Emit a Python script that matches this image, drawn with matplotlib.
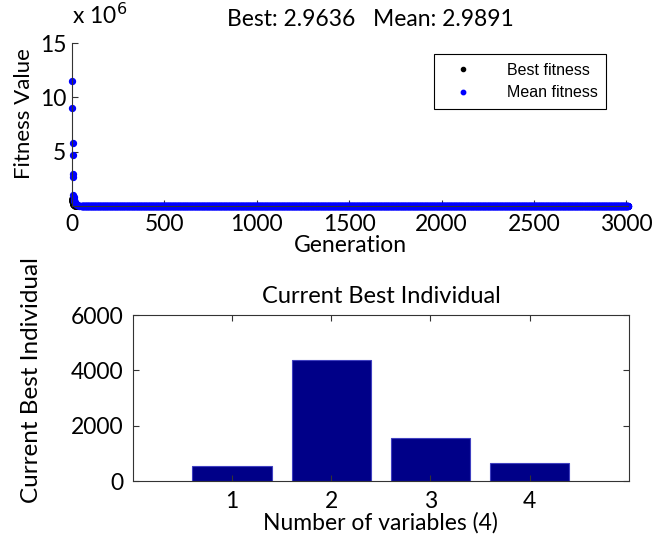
import numpy as np
import matplotlib
matplotlib.use('Agg')
import matplotlib.pyplot as plt

# top panel: fitness per generation (values in units of 1e6)
early_gen = [1, 2, 3, 4, 5, 6, 7, 8, 10, 12, 15, 20, 25, 30, 40, 50]
early_mean = [11.5, 9.0, 5.8, 4.7, 2.9, 2.7, 1.0, 0.8, 0.6, 0.5, 0.35, 0.2, 0.12, 0.06, 0.02, 0.0]
early_best = [0.6, 0.45, 0.35, 0.3, 0.25, 0.2, 0.15, 0.12, 0.08, 0.05, 0.03, 0.01, 0.0, 0.0, 0.0, 0.0]
last_gen = 3010
best_final = 2.9636
mean_final = 2.9891

# bottom panel: current best individual
var_idx = [1, 2, 3, 4]
best_individual = [530, 4380, 1555, 640]

# tail of the run sits flat at the final values
tail_gen = np.arange(early_gen[-1] + 1, last_gen + 1)
gens = np.concatenate([early_gen, tail_gen])
mean_vals = np.concatenate([early_mean, np.repeat(mean_final / 1e6, len(tail_gen))])
best_vals = np.concatenate([early_best, np.repeat(best_final / 1e6, len(tail_gen))])

plt.rcParams['font.family'] = ['Lato', 'DejaVu Sans']
fig = plt.figure(figsize=(6.62, 5.36), dpi=100)

# --- top panel
ax1 = fig.add_axes([0.1088, 0.6157, 0.840, 0.304])
ax1.plot(gens, best_vals, '.', color='black', ms=8, label='Best fitness', clip_on=False)
ax1.plot(gens, mean_vals, '.', color='blue', ms=8.5, label='Mean fitness', clip_on=False)
ax1.set_xlim(0, last_gen)
ax1.set_ylim(0, 15)
ax1.set_yticks([5, 10, 15])
ax1.set_xticks([0, 500, 1000, 1500, 2000, 2500, 3000])
ax1.spines['top'].set_visible(False)
ax1.spines['right'].set_visible(False)
for s in ['left', 'bottom']:
    ax1.spines[s].set_color('#333333')
    ax1.spines[s].set_linewidth(0.8)
ax1.tick_params(direction='in', length=4, labelsize=16.5, pad=6, color='#333333')
ax1.tick_params(axis='y', pad=4)
ax1.set_xlabel('Generation', fontsize=16.5, labelpad=0)
ax1.set_ylabel('Fitness Value', fontsize=16)
ax1.yaxis.set_label_coords(-0.068, 0.57)
ax1.set_title('Best: 2.9636   Mean: 2.9891', fontsize=16.5, x=0.536, pad=12)
ax1.text(0.0, 1.09, r'x 10$^6$', transform=ax1.transAxes, fontsize=16.5, ha='left', va='bottom')
leg = ax1.legend(loc='upper right', bbox_to_anchor=(0.975, 0.98),
                 prop={'family': 'Liberation Sans', 'size': 11.5},
                 fancybox=False, framealpha=1, edgecolor='black', markerscale=0.75,
                 handletextpad=1.4, borderpad=0.55, labelspacing=0.45, handlelength=2.6)
leg.get_frame().set_linewidth(0.8)

# --- bottom panel
ax2 = fig.add_axes([0.2009, 0.1026, 0.749, 0.3097])
ax2.bar(var_idx, best_individual, width=0.8, color='#000088', edgecolor='#4040c0', linewidth=0.8)
ax2.set_xlim(0, 5)
ax2.set_ylim(0, 6000)
ax2.set_xticks(var_idx)
ax2.set_yticks([0, 2000, 4000, 6000])
for s in ax2.spines.values():
    s.set_color('#333333')
    s.set_linewidth(0.8)
ax2.tick_params(direction='in', length=4, labelsize=16.5, pad=7, color='#333333',
                top=True, right=True)
ax2.set_title('Current Best Individual', fontsize=17, pad=9)
ax2.set_xlabel('Number of variables (4)', fontsize=16.5, labelpad=0)
ax2.set_ylabel('Current Best Individual', fontsize=17.5)
ax2.yaxis.set_label_coords(-0.184, 0.61)

fig.savefig('out.png', dpi=100)
